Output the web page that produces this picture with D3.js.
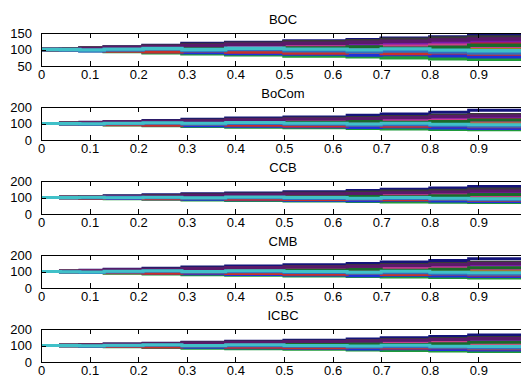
<!DOCTYPE html>
<html><head><meta charset="utf-8">
<script src="https://cdnjs.cloudflare.com/ajax/libs/d3/7.8.5/d3.min.js"></script>
<style>body{margin:0;background:#fff}svg{display:block}text{font-family:"Liberation Sans",Arial,sans-serif;font-size:13px;fill:#000}</style>
</head><body><svg id="c" width="521" height="379"></svg>
<script>
const banks = ["BOC","BoCom","CCB","CMB","ICBC"];
const times = [0,0.04,0.08,0.13,0.21,0.29,0.38,0.5,0.63,0.7,0.8,0.88];
const yDomains = [[50,150],[0,200],[0,200],[0,200],[0,200]];
const yTicks = [[50,100,150],[0,100,200],[0,100,200],[0,100,200],[0,100,200]];
const xTicks = [0,0.1,0.2,0.3,0.4,0.5,0.6,0.7,0.8,0.9];
const xTickLabels = ["0","0.1","0.2","0.3","0.4","0.5","0.6","0.7","0.8","0.9"];
const colors = ["#14147a","#1f9a3a","#d01c2c","#1a9a9a","#7a1aa8","#9a8a1a","#3a3a3a","#2030d8","#c8408a","#1a6a2a","#c8302a","#5a1a6a","#3070c0","#40c0c8"];

const pathsBOC = [
[100,102,104,108,112,118,121,126,130,134,138,145],
[100,99,97,94,90,87,84,80,78,75,72,70],
[100,101,103,101,105,108,112,110,115,118,116,122],
[100,98,99,96,98,95,97,93,96,99,95,92],
[100,101,100,104,107,106,110,114,112,117,121,126],
[100,99,101,99,96,99,94,97,101,98,103,100],
[100,102,105,107,111,115,119,124,127,131,135,138],
[100,99,97,98,94,91,88,86,83,85,81,78],
[100,100,102,105,103,107,104,108,106,110,113,110],
[100,101,99,102,100,103,101,105,108,104,107,113],
[100,99,98,95,93,96,92,89,92,88,90,86],
[100,101,103,106,109,112,116,119,122,125,129,132],
[100,98,96,98,101,97,100,96,93,95,92,89],
[100,100,99,101,103,100,104,101,99,102,98,96]];
const pathsBoCom = [
[100,103,107,112,118,126,133,140,150,158,168,180],
[100,98,95,91,86,82,78,74,70,67,64,62],
[100,101,104,102,108,113,119,116,124,130,127,136],
[100,97,99,94,97,92,95,89,93,97,91,87],
[100,102,100,106,111,109,115,121,118,126,133,141],
[100,99,102,98,94,99,92,96,102,97,104,100],
[100,103,106,109,114,120,126,132,137,143,150,155],
[100,98,96,97,91,87,83,80,76,79,73,70],
[100,101,103,107,104,110,106,112,109,115,120,115],
[100,102,98,103,100,105,102,108,113,107,112,121],
[100,98,97,93,90,94,89,85,89,83,86,80],
[100,101,104,109,113,117,123,127,131,136,142,147],
[100,97,95,98,102,96,100,95,90,93,88,84],
[100,100,98,102,105,101,106,101,97,102,96,93]];
const pathsCCB = [
[100,102,106,110,116,122,128,135,142,150,158,166],
[100,99,96,93,89,85,82,79,76,73,71,69],
[100,101,103,105,109,112,117,121,126,124,131,138],
[100,98,97,95,98,94,96,91,94,90,93,89],
[100,102,104,103,107,111,114,118,123,128,126,133],
[100,99,101,97,95,97,93,95,99,96,101,98],
[100,101,104,108,112,117,121,127,133,139,144,152],
[100,99,97,94,92,89,86,84,81,83,79,76],
[100,100,102,106,104,108,105,110,107,113,117,112],
[100,101,99,101,98,102,100,104,109,105,110,118],
[100,98,96,98,93,95,90,88,91,86,88,83],
[100,101,102,105,109,114,118,122,125,129,134,140],
[100,99,98,101,99,96,99,94,91,94,90,86],
[100,100,101,99,102,99,103,100,96,100,95,92]];
const pathsCMB = [
[100,103,108,114,120,127,134,141,149,158,167,178],
[100,97,94,90,85,81,77,73,69,66,63,60],
[100,102,105,103,109,114,120,118,126,132,129,139],
[100,98,100,95,98,93,96,90,94,98,92,88],
[100,101,99,105,110,108,114,120,117,125,132,140],
[100,99,102,99,95,100,93,97,103,98,105,101],
[100,102,105,108,113,119,125,131,136,142,149,156],
[100,98,95,96,90,86,82,79,75,78,72,69],
[100,101,104,108,105,111,107,113,110,116,121,116],
[100,102,98,104,101,106,103,109,114,108,113,122],
[100,98,96,92,89,93,88,84,88,82,85,79],
[100,101,105,110,114,118,124,128,132,137,143,148],
[100,97,94,97,101,95,99,94,89,92,87,83],
[100,99,97,101,104,100,105,100,96,101,95,92]];
const pathsICBC = [
[100,102,105,109,114,120,126,132,140,147,155,164],
[100,98,96,92,88,84,80,77,73,70,67,64],
[100,101,104,102,107,111,116,114,121,127,124,132],
[100,99,100,96,99,95,98,92,95,99,94,90],
[100,101,100,104,108,107,112,118,115,122,128,136],
[100,99,101,98,95,99,94,97,102,97,103,99],
[100,102,104,107,111,116,121,126,131,136,142,148],
[100,99,97,98,93,89,86,83,79,81,76,73],
[100,100,102,106,103,108,105,111,108,114,118,113],
[100,101,99,102,100,104,101,106,111,106,110,119],
[100,99,97,94,91,95,90,86,90,85,87,81],
[100,101,103,107,111,115,120,124,128,132,137,143],
[100,98,96,98,101,96,99,95,91,93,89,85],
[100,100,98,101,104,100,104,100,97,101,96,94]];
const allPaths = [pathsBOC,pathsBoCom,pathsCCB,pathsCMB,pathsICBC];

const svg = d3.select("#c");
const x = d3.scaleLinear().domain([0,1]).range([41,527]);
const tops = [33,107,181,255,329], H = 33, tick = 5;

banks.forEach((name,i)=>{
  const top = tops[i], bot = top+H;
  const y = d3.scaleLinear().domain(yDomains[i]).range([bot,top]);
  const g = svg.append("g");
  const cid = "clip"+i;
  g.append("clipPath").attr("id",cid).append("rect")
    .attr("x",x(0)).attr("y",top).attr("width",x(1)-x(0)).attr("height",H);
  const line = d3.line().curve(d3.curveStepAfter).x(d=>x(d[0])).y(d=>y(d[1]));
  const lg = g.append("g").attr("clip-path",`url(#${cid})`);
  allPaths[i].forEach((p,j)=>{
    const pts = p.map((v,k)=>[times[k],v]);
    pts.push([1,p[p.length-1]]);
    lg.append("path").attr("d",line(pts)).attr("fill","none")
      .attr("stroke",colors[j%colors.length]).attr("stroke-width",i===0?3.4:3.0);
  });
  g.append("rect").attr("x",x(0)).attr("y",top).attr("width",x(1)-x(0)).attr("height",H)
    .attr("fill","none").attr("stroke","#000").attr("stroke-width",1).attr("shape-rendering","crispEdges");
  const xa = d3.axisBottom(x).tickValues(xTicks).tickSizeInner(-tick).tickSizeOuter(0)
    .tickFormat((d,k)=>xTickLabels[k]).tickPadding(4);
  const gx = g.append("g").attr("transform",`translate(0,${bot})`).call(xa);
  gx.select(".domain").remove();
  gx.selectAll("line").attr("stroke","#000").attr("shape-rendering","crispEdges");
  gx.selectAll("text").attr("font-size",13).attr("font-family","Liberation Sans, Arial, sans-serif").attr("fill","#000");
  const xt = d3.axisTop(x).tickValues(xTicks).tickSizeInner(-tick).tickSizeOuter(0).tickFormat("");
  const gxt = g.append("g").attr("transform",`translate(0,${top})`).call(xt);
  gxt.select(".domain").remove();
  gxt.selectAll("line").attr("stroke","#000").attr("shape-rendering","crispEdges");
  const ya = d3.axisLeft(y).tickValues(yTicks[i]).tickSizeInner(-tick).tickSizeOuter(0).tickPadding(9);
  const gy = g.append("g").attr("transform",`translate(${x(0)},0)`).call(ya);
  gy.select(".domain").remove();
  gy.selectAll("line").attr("stroke","#000").attr("shape-rendering","crispEdges");
  gy.selectAll("text").attr("font-size",13).attr("font-family","Liberation Sans, Arial, sans-serif").attr("fill","#000");
  g.append("text").attr("x",(x(0)+x(1))/2 - 1).attr("y",top-9.5).attr("text-anchor","middle").text(name);
});
</script></body></html>
